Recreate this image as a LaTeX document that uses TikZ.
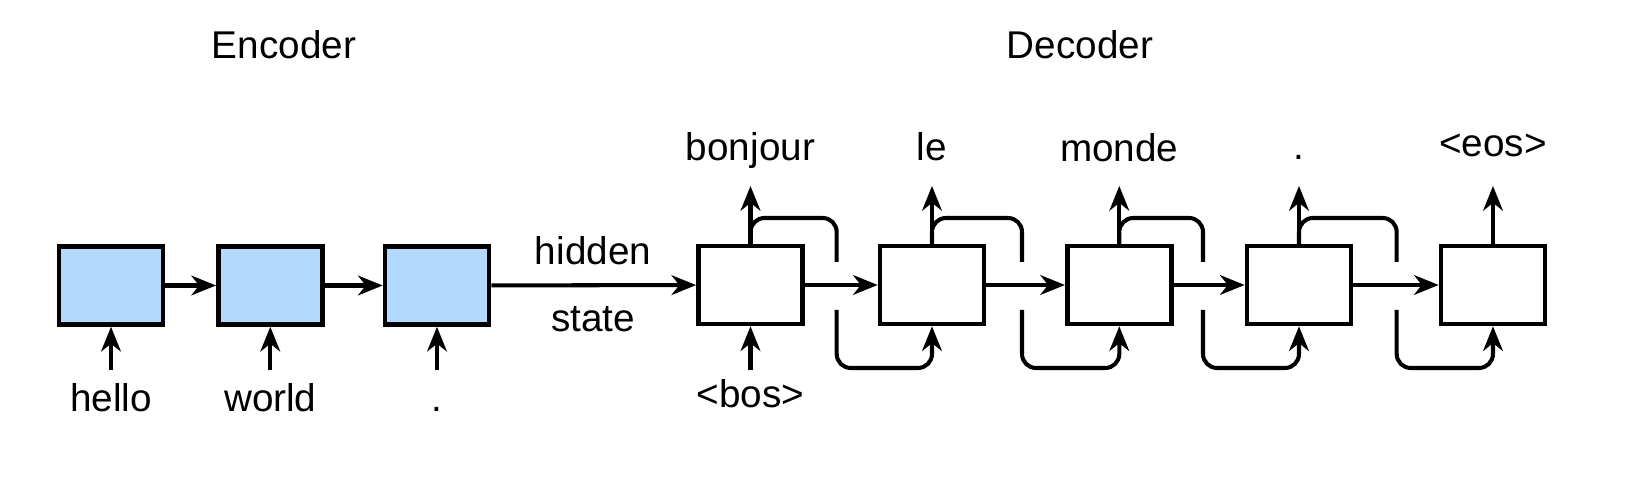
\documentclass[tikz,border=0pt]{standalone}
\usepackage{fontspec}
\setmainfont{Liberation Sans}
\usetikzlibrary{arrows.meta}
\definecolor{encfill}{RGB}{179,217,255}
\begin{document}
\begin{tikzpicture}[x=0.01cm,y=-0.01cm,
 cell/.style={draw, line width=1.3pt, minimum width=1.04cm, minimum height=0.78cm, inner sep=0pt},
 enc/.style={cell, fill=encfill},
 dec/.style={cell, fill=white},
 conn/.style={line width=1.15pt, -{Stealth[length=7pt,width=5.6pt,inset=2.2pt]}},
 loopl/.style={line width=1.15pt, rounded corners=0.14cm},
 lbl/.style={font=\fontsize{11}{13}\selectfont, inner sep=0pt, anchor=base},
 ttl/.style={font=\fontsize{11}{13}\selectfont, inner sep=0pt}
]
\useasboundingbox (0,0) rectangle (1638,480);
% titles
\node[ttl] (tenc) at (284,45) {Encoder};
\node[ttl] (tdec) at (1080,45) {Decoder};
% encoder
\node[enc] (e1) at (111,285.5) {};
\node[enc] (e2) at (270.3,285.5) {};
\node[enc] (e3) at (437,285.5) {};
\draw[conn] (e1) -- (e2);
\draw[conn] (e2) -- (e3);
\foreach \n/\x/\t in {1/111/hello, 2/270.3/world, 3/437/.} {
  \coordinate (ei\n) at (\x,370);
  \draw[conn] (ei\n) -- (e\n.south);
  \node[lbl] (el\n) at (\x,412) {\t};
}
% decoder
\node[dec] (d1) at (750.5,285) {};
\node[dec] (d2) at (932,285) {};
\node[dec] (d3) at (1119.3,285) {};
\node[dec] (d4) at (1299,285) {};
\node[dec] (d5) at (1493,285) {};
\draw[conn] (e3) -- (d1);
\node[lbl] (hid) at (593,265) {hidden};
\node[lbl] (sta) at (593,332) {state};
\coordinate (di1) at (750.5,370);
\draw[conn] (di1) -- (d1.south);
\node[lbl] (bos) at (750.5,408) {<bos>};
\foreach \i/\j in {1/2,2/3,3/4,4/5} {
  \draw[conn] (d\i) -- (d\j);
}
\foreach \n/\x/\yb/\t in {1/750.5/161/bonjour, 2/932/161/le, 3/1119.3/162/monde, 4/1299/160/., 5/1493/157/<eos>} {
  \coordinate (do\n) at (\x,186);
  \draw[conn] (d\n.north) -- (do\n);
  \node[lbl] (dl\n) at (\x,\yb) {\t};
}
% feedback loops
\foreach \i/\j/\g in {1/2/836.7, 2/3/1022, 3/4/1203, 4/5/1396.7} {
  \coordinate (ga\i) at (\g,262);
  \coordinate (gb\i) at (\g,310);
  \draw[loopl] (d\i.north) |- (\g,218) -- (ga\i);
  \draw[loopl, conn] (gb\i) -- (\g,368) -| (d\j.south);
}
\end{tikzpicture}
\end{document}
